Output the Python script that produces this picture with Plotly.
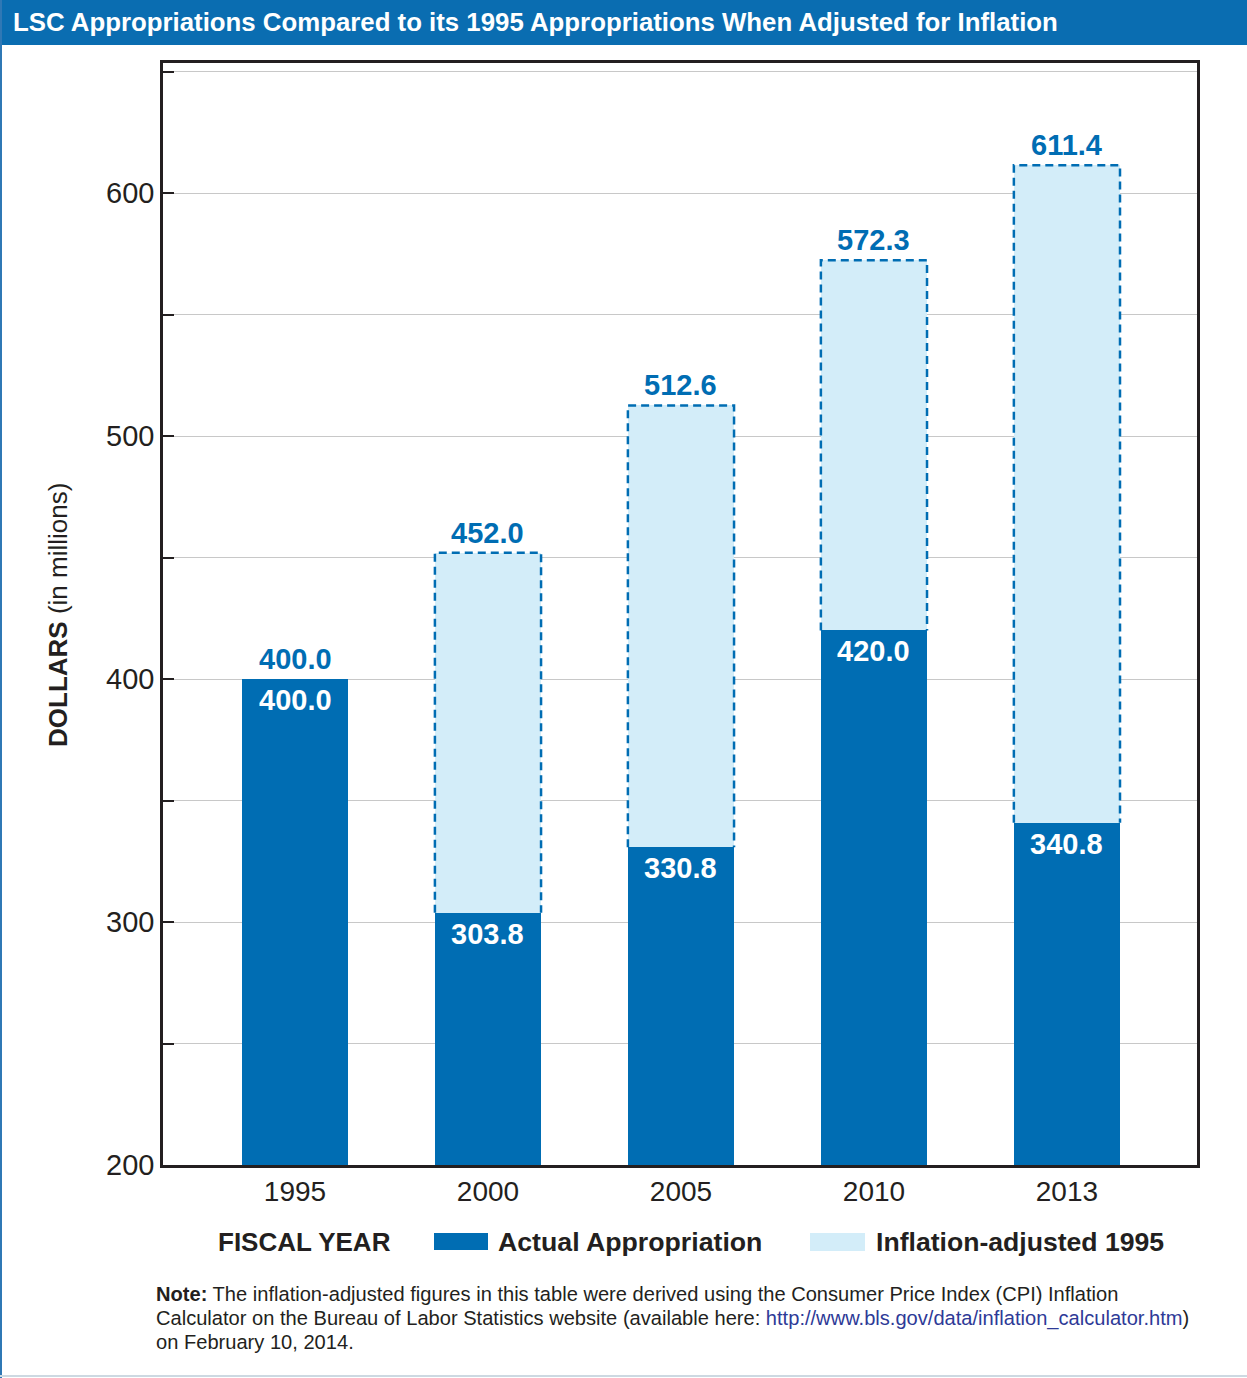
import plotly.graph_objects as go

# Fiscal years and appropriations (millions of dollars)
years = ["1995", "2000", "2005", "2010", "2013"]
actual = [400.0, 303.8, 330.8, 420.0, 340.8]
adjusted_1995 = [400.0, 452.0, 512.6, 572.3, 611.4]

y_ticks = [200, 250, 300, 350, 400, 450, 500, 550, 600, 650]
y_tick_text = ["200", "", "300", "", "400", "", "500", "", "600", ""]

DARK = "#006db3"
LIGHT = "#d3edf9"
INK = "#231f20"
FONT = "Liberation Sans, Arial, Helvetica, sans-serif"

W, H = 1247, 1378
L, R, T, B = 163, 1197, 63, 1165
BAR_W = 0.55


def px(x):
    return (x - L) / (R - L)


def py(y):
    return (B - y) / (B - T)


idx = list(range(len(years)))
gap = [a2 - a1 for a1, a2 in zip(actual, adjusted_1995)]

fig = go.Figure()

fig.add_trace(go.Bar(
    x=idx, y=actual, width=BAR_W, marker=dict(color=DARK, line=dict(width=0)),
    name="Actual Appropriation", showlegend=False, base=0,
))
fig.add_trace(go.Bar(
    x=idx, y=gap, base=actual, width=BAR_W,
    marker=dict(color=LIGHT, line=dict(width=0)),
    name="Inflation-adjusted 1995", showlegend=False,
))

# dashed outline around the inflation-adjusted portion
for i, (a, v) in enumerate(zip(actual, adjusted_1995)):
    if v <= a:
        continue
    h = BAR_W / 2
    fig.add_trace(go.Scatter(
        x=[i - h, i - h, i + h, i + h], y=[a, v, v, a], mode="lines",
        line=dict(color=DARK, width=2.5, dash="8px,5px"),
        hoverinfo="skip", showlegend=False,
    ))

annotations = []
for i, (a, v) in enumerate(zip(actual, adjusted_1995)):
    annotations.append(dict(
        x=i, y=v, xref="x", yref="y", text=f"<b>{v:.1f}</b>", showarrow=False,
        yanchor="bottom", yshift=2, font=dict(family=FONT, size=29, color=DARK),
    ))
    annotations.append(dict(
        x=i, y=a, xref="x", yref="y", text=f"<b>{a:.1f}</b>", showarrow=False,
        yanchor="top", yshift=-3, font=dict(family=FONT, size=29, color="white"),
    ))

# header title
annotations.append(dict(
    x=px(11), y=py(22), xref="paper", yref="paper", xanchor="left", yanchor="middle",
    text="<b>LSC Appropriations Compared to its 1995 Appropriations When Adjusted for Inflation</b>",
    showarrow=False, font=dict(family=FONT, size=25.8, color="white"),
))

# y axis title
annotations.append(dict(
    x=px(58), y=py(615), xref="paper", yref="paper", xanchor="center", yanchor="middle",
    text="<b>DOLLARS</b> (in millions)", textangle=-90, showarrow=False,
    font=dict(family=FONT, size=26, color=INK),
))

# legend row
annotations.append(dict(
    x=px(216), y=py(1242), xref="paper", yref="paper", xanchor="left", yanchor="middle",
    text="<b>FISCAL YEAR</b>", showarrow=False, font=dict(family=FONT, size=26, color=INK),
))
annotations.append(dict(
    x=px(496), y=py(1242), xref="paper", yref="paper", xanchor="left", yanchor="middle",
    text="<b>Actual Appropriation</b>", showarrow=False, font=dict(family=FONT, size=26.7, color=INK),
))
annotations.append(dict(
    x=px(874), y=py(1242), xref="paper", yref="paper", xanchor="left", yanchor="middle",
    text="<b>Inflation-adjusted 1995</b>", showarrow=False, font=dict(family=FONT, size=26.6, color=INK),
))

# footnote
note_lines = [
    "<b>Note:</b> The inflation-adjusted figures in this table were derived using the Consumer Price Index (CPI) Inflation",
    "Calculator on the Bureau of Labor Statistics website (available here: "
    "<span style='color:#2e3a97'>http://www.bls.gov/data/inflation_calculator.htm</span>)",
    "on February 10, 2014.",
]
for k, line in enumerate(note_lines):
    annotations.append(dict(
        x=px(154), y=py(1294 + 24 * k), xref="paper", yref="paper", xanchor="left", yanchor="middle",
        text=line, showarrow=False, font=dict(family=FONT, size=20.1, color=INK),
    ))

shapes = [
    # header band
    dict(type="rect", xref="paper", yref="paper", x0=px(0), x1=px(W), y0=py(45), y1=py(0),
         fillcolor="#0a6db1", line=dict(width=0), layer="above"),
    # outer left border and bottom rule
    dict(type="line", xref="paper", yref="paper", x0=px(1), x1=px(1), y0=py(0), y1=py(H),
         line=dict(color="#2f78b5", width=2)),
    dict(type="line", xref="paper", yref="paper", x0=px(0), x1=px(W), y0=py(1376), y1=py(1376),
         line=dict(color="#cdd9e2", width=2)),
    # legend swatches
    dict(type="rect", xref="paper", yref="paper", x0=px(434), x1=px(488), y0=py(1250), y1=py(1233),
         fillcolor=DARK, line=dict(width=0)),
    dict(type="rect", xref="paper", yref="paper", x0=px(810), x1=px(865), y0=py(1251), y1=py(1233),
         fillcolor=LIGHT, line=dict(width=0)),
]

fig.update_layout(
    width=W, height=H,
    margin=dict(l=L, r=W - R, t=T, b=H - B, pad=0),
    paper_bgcolor="white", plot_bgcolor="white",
    barmode="overlay", bargap=0,
    showlegend=False,
    font=dict(family=FONT, color=INK),
    annotations=annotations, shapes=shapes,
    xaxis=dict(
        range=[-0.684, 4.674], tickvals=idx, ticktext=years, showgrid=False, zeroline=False,
        showline=True, mirror=True, linecolor=INK, linewidth=2.5, ticks="",
        tickfont=dict(family=FONT, size=28, color=INK), fixedrange=True,
    ),
    yaxis=dict(
        range=[200, 653.5], tickvals=y_ticks, ticktext=y_tick_text, showgrid=True,
        gridcolor="#c8c8c8", gridwidth=1, zeroline=False,
        showline=True, mirror=True, linecolor=INK, linewidth=2.5,
        ticks="inside", ticklen=11, tickwidth=2, tickcolor=INK,
        tickfont=dict(family=FONT, size=29, color=INK), fixedrange=True,
    ),
)

fig.write_html("out.html")
